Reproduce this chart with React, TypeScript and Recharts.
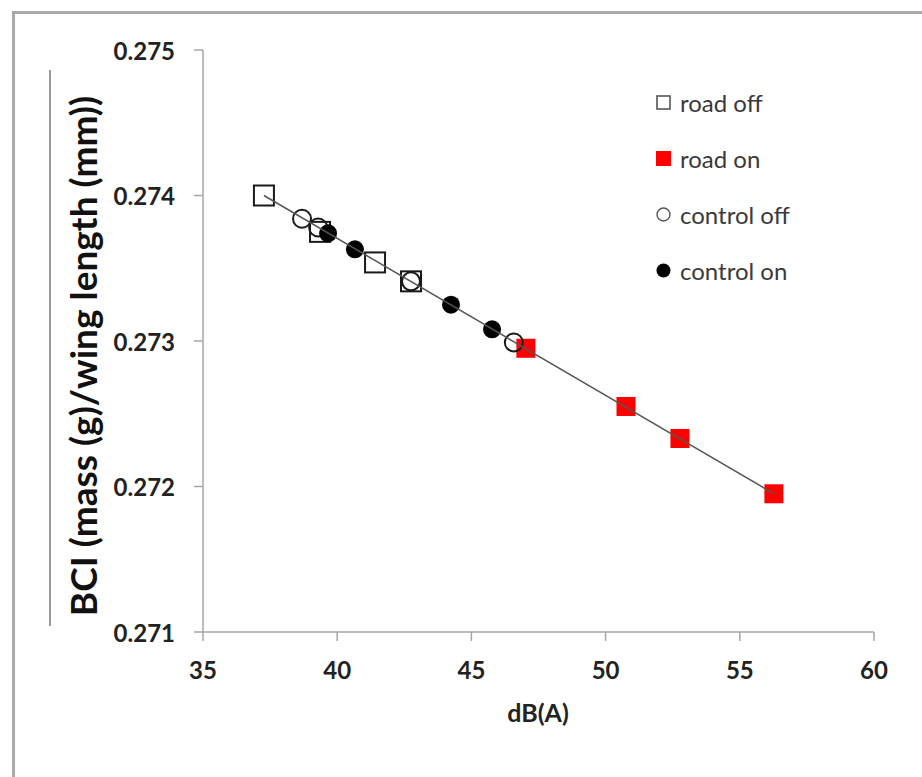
import React from 'react';
import { ScatterChart, Scatter, XAxis, YAxis, Label } from 'recharts';

// values
const roadOffX = [37.27, 39.36, 41.41, 42.75];
const roadOffY = [0.274, 0.27375, 0.27354, 0.27341];
const roadOnX = [47.03, 50.76, 52.77, 56.27];
const roadOnY = [0.27295, 0.27255, 0.27233, 0.27195];
const controlOffX = [38.69, 39.29, 42.75, 46.58];
const controlOffY = [0.27384, 0.27378, 0.27341, 0.27299];
const controlOnX = [39.66, 40.66, 44.24, 45.77];
const controlOnY = [0.27374, 0.27363, 0.27325, 0.27308];
const trendX = [37.27, 56.27];
const trendY = [0.274, 0.27195];

const xTicks = [35, 40, 45, 50, 55, 60];
const yTicks = [0.271, 0.272, 0.273, 0.274, 0.275];
const legendNames = ['road off', 'road on', 'control off', 'control on'];

const toPoints = (xs: number[], ys: number[]) => xs.map((x, i) => ({ x, y: ys[i] }));

const roadOff = toPoints(roadOffX, roadOffY);
const roadOn = toPoints(roadOnX, roadOnY);
const controlOff = toPoints(controlOffX, controlOffY);
const controlOn = toPoints(controlOnX, controlOnY);
const trend = toPoints(trendX, trendY);

const FONT = 'Lato, "Open Sans", sans-serif';
const AXIS = '#a6a6a6';

const OpenSquare = (p: any) => (
  <rect x={p.cx - 10} y={p.cy - 10} width={20} height={20} fill="none" stroke="#1a1a1a" strokeWidth={2} />
);
const RedSquare = (p: any) => (
  <rect x={p.cx - 9.5} y={p.cy - 9.5} width={19} height={19} fill="#ff0000" />
);
const OpenCircle = (p: any) => (
  <circle cx={p.cx} cy={p.cy} r={9} fill="none" stroke="#1a1a1a" strokeWidth={2} />
);
const DotCircle = (p: any) => <circle cx={p.cx} cy={p.cy} r={9} fill="#000" />;
const NoMark = () => <g />;

const legendIcons = [
  <rect x={2} y={2} width={13} height={13} fill="none" stroke="#555" strokeWidth={1.6} />,
  <rect x={1} y={1} width={15} height={15} fill="#ff0000" />,
  <circle cx={8.5} cy={8.5} r={6.5} fill="none" stroke="#555" strokeWidth={1.4} />,
  <circle cx={8.5} cy={8.5} r={7} fill="#000" />,
];

function ChartLegend() {
  return (
    <div style={{ position: 'absolute', left: 655, top: 74, fontFamily: FONT }}>
      {legendNames.map((name, i) => (
        <div key={name} style={{ display: 'flex', alignItems: 'center', height: 56 }}>
          <svg width={17} height={17} style={{ marginRight: 8 }}>
            {legendIcons[i]}
          </svg>
          <span style={{ fontSize: 24, color: '#3a3a3a' }}>{name}</span>
        </div>
      ))}
    </div>
  );
}

const XTick = (p: any) => (
  <text x={p.x} y={p.y + 26} textAnchor="middle" dominantBaseline="central"
    fontFamily={FONT} fontSize={24} fontWeight={700} fill="#222">
    {p.payload.value}
  </text>
);

const YTick = (p: any) => (
  <text x={p.x - 17} y={p.y} textAnchor="end" dominantBaseline="central"
    fontFamily={FONT} fontSize={24} fontWeight={700} fill="#222">
    {Number(p.payload.value).toFixed(3)}
  </text>
);

export default function App() {
  return (
    <div style={{ position: 'absolute', left: 0, top: 0, width: 922, height: 777, background: '#fff', overflow: 'hidden' }}>
      <div style={{ position: 'absolute', left: 12, top: 11, width: 1000, height: 1000, borderLeft: '3px solid #a8a8a8', borderTop: '3px solid #a8a8a8' }} />
      <div style={{ position: 'absolute', left: 49, top: 70, width: 2, height: 556, background: '#9a9a9a' }} />
      <ScatterChart
        width={922}
        height={777}
        margin={{ top: 50, right: 48, bottom: 55, left: 73 }}
        style={{ position: 'absolute', left: 0, top: 0 }}
      >
        <XAxis
          type="number"
          dataKey="x"
          domain={[35, 60]}
          ticks={xTicks}
          height={90}
          tickSize={9}
          axisLine={{ stroke: AXIS, strokeWidth: 1.5 }}
          tickLine={{ stroke: AXIS, strokeWidth: 1.5 }}
          tick={XTick}
        >
          <Label
            content={() => (
              <text x={538} y={712} textAnchor="middle" dominantBaseline="central"
                fontFamily={FONT} fontSize={25} fontWeight={700} fill="#222">
                dB(A)
              </text>
            )}
          />
        </XAxis>
        <YAxis
          type="number"
          dataKey="y"
          domain={[0.271, 0.275]}
          ticks={yTicks}
          width={130}
          tickSize={9}
          axisLine={{ stroke: AXIS, strokeWidth: 1.5 }}
          tickLine={{ stroke: AXIS, strokeWidth: 1.5 }}
          tick={YTick}
        >
          <Label
            content={() => (
              <text x={82} y={356} transform="rotate(-90, 82, 356)" textAnchor="middle"
                dominantBaseline="central" fontFamily={FONT} fontSize={37} fontWeight={700} fill="#111">
                BCI (mass (g)/wing length (mm))
              </text>
            )}
          />
        </YAxis>
        <Scatter name="road off" data={roadOff} shape={OpenSquare} isAnimationActive={false} />
        <Scatter name="road on" data={roadOn} shape={RedSquare} isAnimationActive={false} />
        <Scatter name="control off" data={controlOff} shape={OpenCircle} isAnimationActive={false} />
        <Scatter name="control on" data={controlOn} shape={DotCircle} isAnimationActive={false} />
        <Scatter
          name="trend"
          data={trend}
          shape={NoMark}
          line={{ stroke: '#555', strokeWidth: 1.5 }}
          legendType="none"
          isAnimationActive={false}
        />
      </ScatterChart>
      <ChartLegend />
    </div>
  );
}
